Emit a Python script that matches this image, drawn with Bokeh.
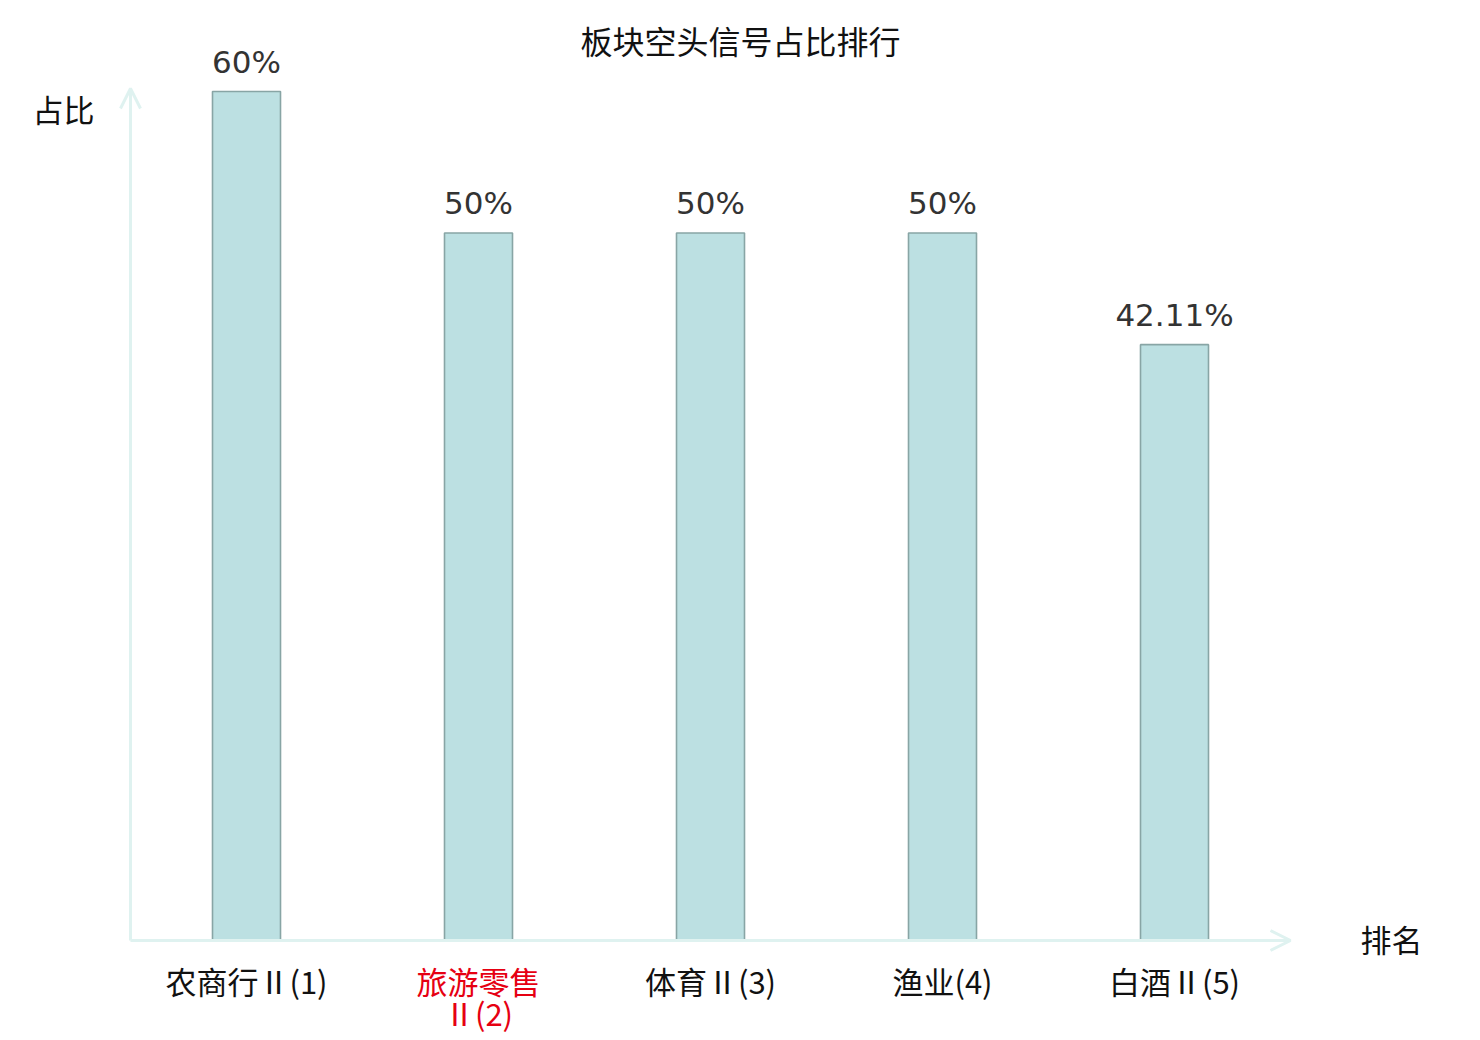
from bokeh.plotting import figure
from bokeh.models import Range1d, ColumnDataSource, LabelSet, Label, Arrow, OpenHead
from bokeh.core.properties import value
from bokeh.embed import file_html
from bokeh.resources import INLINE

# ---- data ----
categories = ["农商行Ⅱ(1)", "旅游零售\nⅡ(2)", "体育Ⅱ(3)", "渔业(4)", "白酒Ⅱ(5)"]
values = [60.0, 50.0, 50.0, 50.0, 42.11]
value_labels = ["60%", "50%", "50%", "50%", "42.11%"]
highlight = [False, True, False, False, False]
title_text = "板块空头信号占比排行"
y_label = "占比"
x_label = "排名"

CJK = "Noto Sans CJK SC"
NUM = "DejaVu Sans"
AXIS_COLOR = "#dff2f0"

W, H = 1480, 1040
# layout (canvas pixels)
AX_LEFT, AX_RIGHT, AX_BOTTOM, AX_TOP = 130, 1290, 940, 88
n = len(categories)
XPX = (AX_RIGHT - AX_LEFT) / n          # px per category
YPX = 14.15                              # px per percent

def dx(sx):
    return -0.5 + (sx - AX_LEFT) / XPX

def dy(sy):
    return (AX_BOTTOM - sy) / YPX

xs = list(range(n))
ymax_axis = dy(AX_TOP)

p = figure(width=W, height=H, output_backend="svg", toolbar_location=None,
           x_range=Range1d(dx(0), dx(W)), y_range=Range1d(dy(H), dy(0)),
           min_border=0)
p.xaxis.visible = False
p.yaxis.visible = False
p.xgrid.visible = False
p.ygrid.visible = False
p.outline_line_color = None
p.background_fill_color = "white"
p.border_fill_color = "white"

# axes with arrows
p.add_layout(Arrow(end=OpenHead(size=20, line_color=AXIS_COLOR, line_width=3),
                   x_start=-0.5, y_start=0, x_end=n - 0.5, y_end=0,
                   line_color=AXIS_COLOR, line_width=3))
p.add_layout(Arrow(end=OpenHead(size=20, line_color=AXIS_COLOR, line_width=3),
                   x_start=-0.5, y_start=0, x_end=-0.5, y_end=ymax_axis,
                   line_color=AXIS_COLOR, line_width=3))

# bars
src = ColumnDataSource(dict(x=xs, top=values, lab=value_labels))
p.vbar(x="x", top="top", width=68 / XPX, bottom=0, source=src,
       fill_color="#bce0e2", line_color="#88a5a5", line_width=1.6)

# value labels
p.add_layout(LabelSet(x="x", y="top", text="lab", source=src, y_offset=19,
                      text_align="center", text_baseline="alphabetic",
                      text_font=value(NUM), text_font_size="31px", text_color="#333333"))

# category labels (split into lines)
lx, ltext, lcol, loff = [], [], [], []
for i, (c, h) in enumerate(zip(categories, highlight)):
    for j, line in enumerate(c.split("\n")):
        lx.append(xs[i])
        ltext.append(line)
        lcol.append("#e60012" if h else "#111111")
        loff.append(-40 - 32 * j)
csrc = ColumnDataSource(dict(x=lx, y=[0] * len(lx), text=ltext, color=lcol, off=loff))
p.add_layout(LabelSet(x="x", y="y", text="text", source=csrc, y_offset="off",
                      text_align="center", text_baseline="middle",
                      text_font=value(CJK), text_font_size="31px", text_color="color"))

# title
p.add_layout(Label(x=dx(740), y=dy(39), text=title_text,
                   text_align="center", text_baseline="middle",
                   text_font=CJK, text_font_size="32px", text_color="#111111"))
# axis names
p.add_layout(Label(x=dx(63), y=dy(108), text=y_label,
                   text_align="center", text_baseline="middle",
                   text_font=CJK, text_font_size="31px", text_color="#111111"))
p.add_layout(Label(x=dx(1391), y=dy(938), text=x_label,
                   text_align="center", text_baseline="middle",
                   text_font=CJK, text_font_size="31px", text_color="#111111"))

open("out.html", "w").write(file_html(p, INLINE))
